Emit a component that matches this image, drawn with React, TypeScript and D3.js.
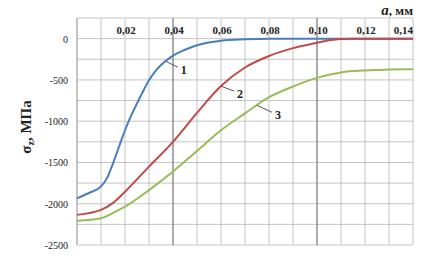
import * as d3 from 'd3';

// a, mm
const curve1 = [
  [0, -1935], [0.005, -1870], [0.01, -1790], [0.0125, -1690], [0.015, -1510],
  [0.0175, -1310], [0.02, -1110], [0.0225, -935], [0.025, -785], [0.0275, -640],
  [0.03, -505], [0.0325, -400], [0.035, -320], [0.04, -205], [0.045, -135],
  [0.05, -80], [0.06, -25], [0.07, -8], [0.08, 0], [0.1, 0], [0.12, 0], [0.14, 0],
];
const curve2 = [
  [0, -2135], [0.01, -2075], [0.015, -1990], [0.02, -1855], [0.03, -1550],
  [0.04, -1250], [0.05, -900], [0.06, -575], [0.07, -350], [0.08, -210],
  [0.09, -115], [0.1, -50], [0.105, -20], [0.11, -3], [0.115, 0],
  [0.12, 0], [0.13, 0], [0.14, 0],
];
const curve3 = [
  [0, -2205], [0.01, -2175], [0.015, -2110], [0.02, -2035], [0.03, -1835],
  [0.04, -1610], [0.05, -1360], [0.06, -1110], [0.07, -905], [0.08, -710],
  [0.09, -580], [0.1, -475], [0.11, -410], [0.12, -385], [0.13, -375], [0.14, -370],
];

const xTickLabels = [0.02, 0.04, 0.06, 0.08, 0.1, 0.12, 0.14];
const yTickLabels = [0, -500, -1000, -1500, -2000, -2500];
const xGrid = d3.range(0, 15).map(i => i / 100);
const yGrid = d3.range(0, 12).map(i => 250 - i * 250);
const darkX = [0.04, 0.1];

const series = [
  { data: curve1, color: '#4a7ebb', label: '1', at: 0.037, lx: 12, ly: 6 },
  { data: curve2, color: '#be4b48', label: '2', at: 0.06, lx: 13, ly: 5 },
  { data: curve3, color: '#9bbb59', label: '3', at: 0.075, lx: 15, ly: 7 },
];

const W = 422;
const H = 264;
const pad = { left: 77, right: 9, top: 18, bottom: 19 };

export default function App() {
  const x = d3.scaleLinear().domain([0, 0.14]).range([pad.left, W - pad.right]);
  const y = d3.scaleLinear().domain([-2500, 250]).range([H - pad.bottom, pad.top]);
  const line = d3.line<number[]>()
    .x(d => x(d[0]))
    .y(d => y(d[1]))
    .curve(d3.curveMonotoneX);
  const fmt = (v: number) => v.toFixed(2).replace('.', ',');
  const interp = (data: number[][], a: number) => {
    for (let i = 1; i < data.length; i++) {
      if (data[i][0] >= a) {
        const t = (a - data[i - 1][0]) / (data[i][0] - data[i - 1][0]);
        return data[i - 1][1] + t * (data[i][1] - data[i - 1][1]);
      }
    }
    return data[data.length - 1][1];
  };

  return (
    <div style={{ position: 'fixed', left: 0, top: 0 }}>
      <svg width={W} height={H} style={{ display: 'block', background: '#fff' }}
        fontFamily="'Liberation Serif', 'Times New Roman', serif">
        {/* grid */}
        {yGrid.map(v => (
          <line key={'h' + v} x1={x(0)} x2={x(0.14)} y1={y(v)} y2={y(v)}
            stroke="#c4c4c4" strokeWidth={1} />
        ))}
        {xGrid.map(v => (
          <line key={'v' + v} x1={x(v)} x2={x(v)} y1={y(250)} y2={y(-2500)}
            stroke={darkX.some(d => Math.abs(d - v) < 1e-9) ? '#8f8f8f' : '#c4c4c4'}
            strokeWidth={darkX.some(d => Math.abs(d - v) < 1e-9) ? 1.5 : 1} />
        ))}
        <line x1={x(0)} x2={x(0)} y1={y(250)} y2={y(-2500)} stroke="#a6a6a6" />

        {/* x tick labels */}
        {xTickLabels.map((v, i) => {
          const last = i === xTickLabels.length - 1;
          return (
            <text key={'xt' + v} x={last ? x(v) : x(v) + 1} y={y(0) - 5}
              textAnchor={last ? 'end' : 'middle'}
              fontSize={11} fontWeight="bold" fill="#222">{fmt(v)}</text>
          );
        })}
        {/* y tick labels */}
        {yTickLabels.map(v => (
          <text key={'yt' + v} x={x(0) - 9} y={y(v) + 4} textAnchor="end"
            fontSize={10} fill="#222">{v}</text>
        ))}

        {/* curves */}
        {series.map(s => (
          <path key={s.label} d={line(s.data) || ''} fill="none"
            stroke={s.color} strokeWidth={2} />
        ))}

        {/* curve labels */}
        {series.map(s => {
          const px = x(s.at);
          const py = y(interp(s.data, s.at));
          return (
            <g key={'l' + s.label}>
              <line x1={px} y1={py} x2={px + s.lx} y2={py + s.ly} stroke="#555" strokeWidth={1} />
              <text x={px + s.lx + 6} y={py + s.ly + 7} textAnchor="middle"
                fontSize={12} fontWeight="bold" fill="#222">{s.label}</text>
            </g>
          );
        })}

        {/* axis titles */}
        <text x={x(0.14)} y={15} textAnchor="end" fontSize={13} fontWeight="bold" fill="#222">
          <tspan fontStyle="italic" fontSize={15}>a</tspan>, мм
        </text>
        <text transform={`translate(31,127) rotate(-90)`} textAnchor="middle"
          fontSize={15} fontWeight="bold" fill="#222">
          σ<tspan fontSize={10} dy={3}>z</tspan><tspan dy={-3}>, МПа</tspan>
        </text>
      </svg>
    </div>
  );
}
